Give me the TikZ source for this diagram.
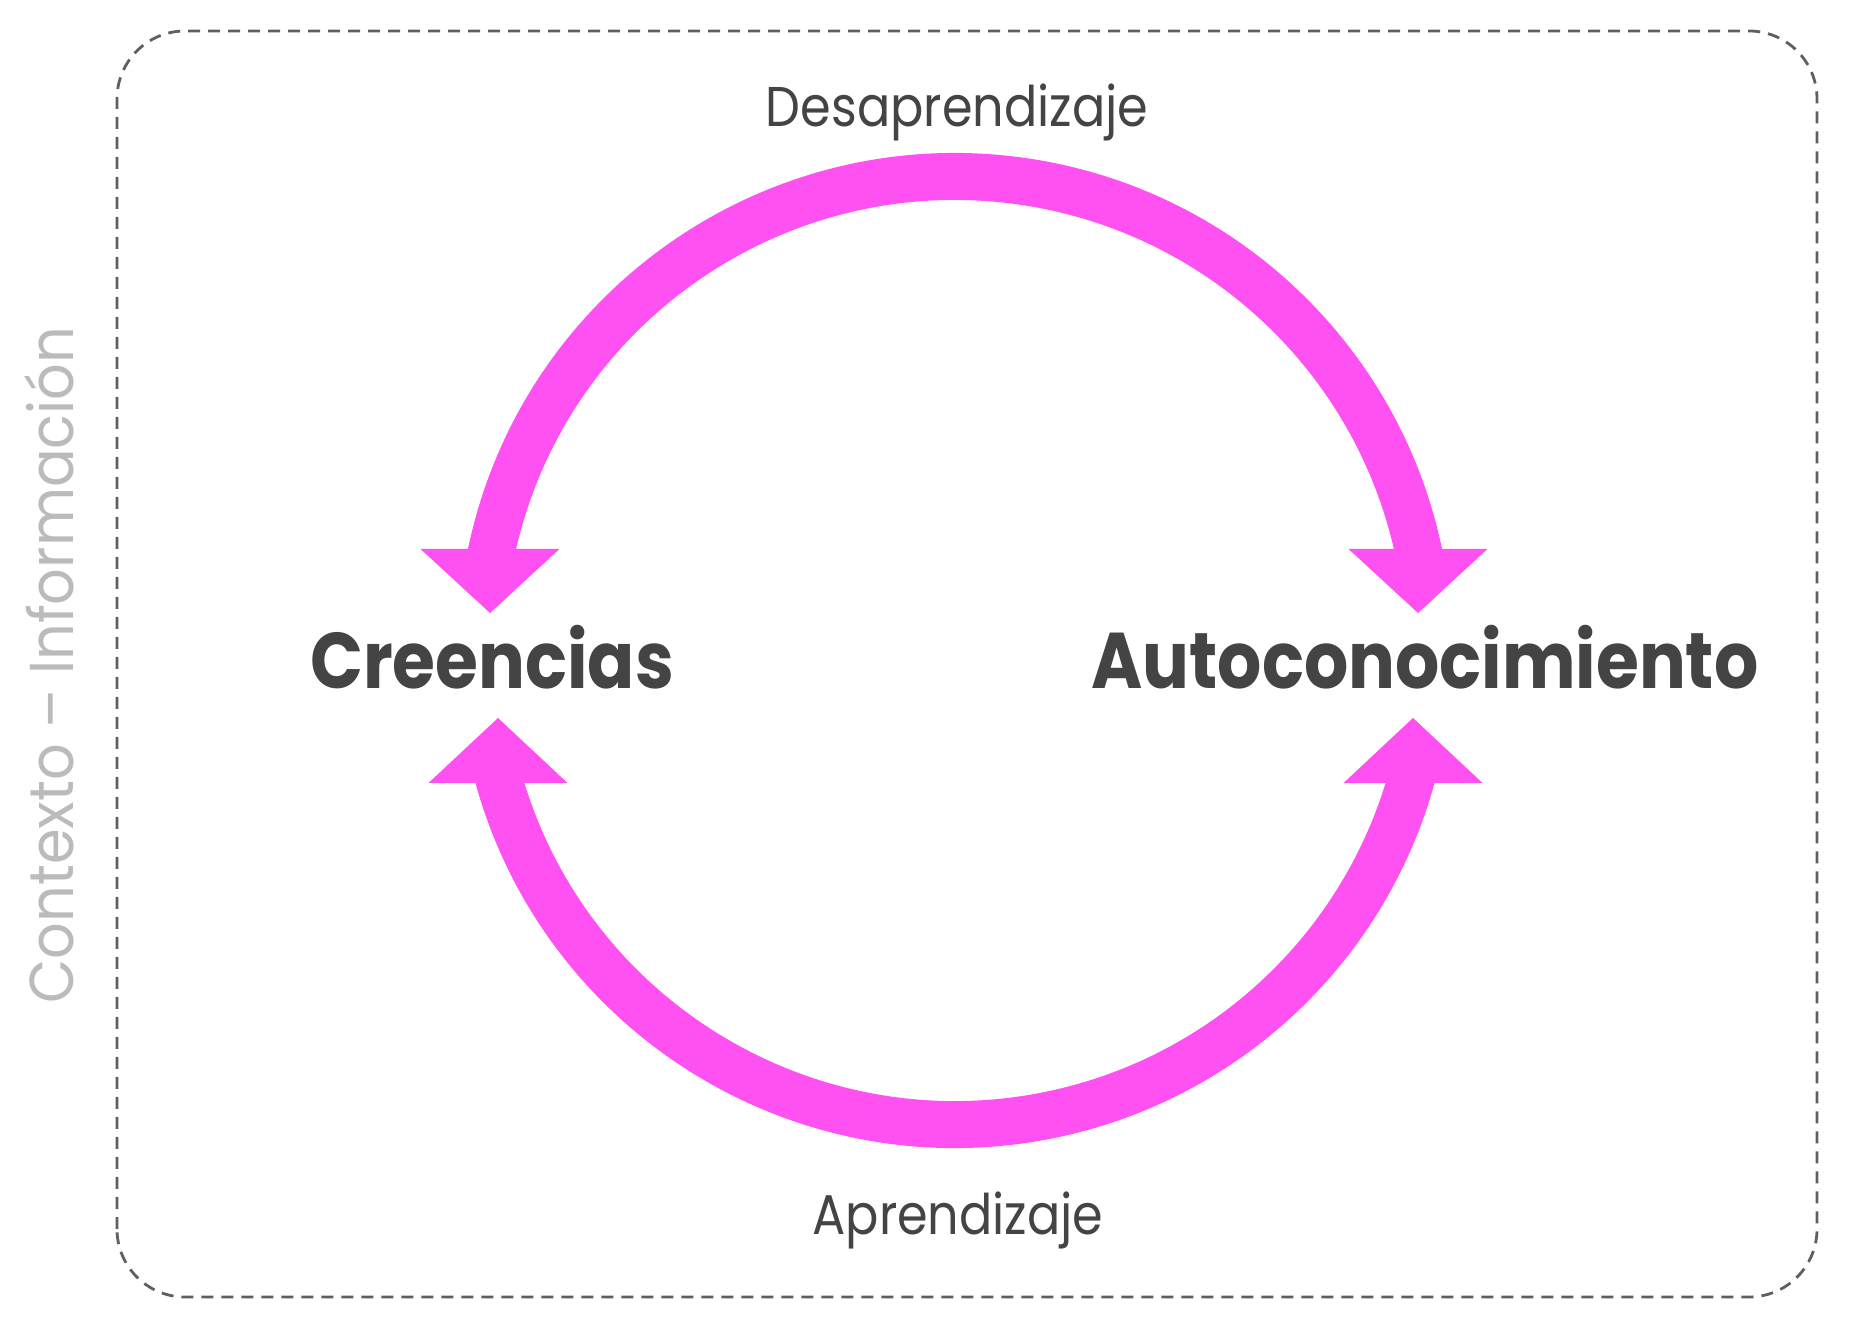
\documentclass[tikz,border=0pt]{standalone}
\usepackage{fontspec}
\setmainfont{Poppins}
\newfontfamily\regf[FakeStretch=0.88]{Poppins}
\newfontfamily\ctxf[FakeStretch=0.925]{Poppins}
\definecolor{mag}{RGB}{255,80,242}
\definecolor{txt}{RGB}{68,68,68}
\definecolor{boxc}{RGB}{95,95,95}
\definecolor{ctxc}{RGB}{187,187,187}
\begin{document}
\begin{tikzpicture}[x=1pt,y=1pt,
  lbl/.style={text=txt, inner sep=0pt, anchor=base},
  bigl/.style={lbl, font=\regf\bfseries\fontsize{79}{79}\selectfont},
  smalll/.style={lbl, font=\regf\fontsize{56}{56}\selectfont},
  band/.style={draw=mag, line width=47pt},
  head/.style={fill=mag}]
\useasboundingbox (0,0) rectangle (1865,1333);
\draw[boxc, line width=2.8pt, dash pattern=on 12pt off 8pt, rounded corners=68pt]
  (117,36) rectangle (1817,1302);
% labels
\node[bigl] (cre) at (492,644) {Creencias};
\node[bigl] (auto) at (1425,644) {Autoconocimiento};
\node[smalll] (des) at (957,1206) {Desaprendizaje};
\node[smalll] (apr) at (958,99) {Aprendizaje};
\node[rotate=90, anchor=base, inner sep=0pt, text=ctxc, font=\ctxf\fontsize{62}{62}\selectfont] (ctx) at (73,668) {Contexto – Información};
% arcs
\coordinate (cc) at (955,682.5);
\draw[band] (cc) ++(170.5:474) arc[start angle=170.5, end angle=9.5, radius=474];
\draw[band] (cc) ++(193:474) arc[start angle=193, end angle=347, radius=474];
% arrowheads
\coordinate (ulTip) at (490,720);
\coordinate (urTip) at (1418,720);
\coordinate (llTip) at (498,615);
\coordinate (lrTip) at (1413,615);
\fill[head] (ulTip) -- ++(-69.5,64) -- ++(139,0) -- cycle;
\fill[head] (urTip) -- ++(-69.5,64) -- ++(139,0) -- cycle;
\fill[head] (llTip) -- ++(-69.5,-65) -- ++(139,0) -- cycle;
\fill[head] (lrTip) -- ++(-69.5,-65) -- ++(139,0) -- cycle;
\end{tikzpicture}
\end{document}
